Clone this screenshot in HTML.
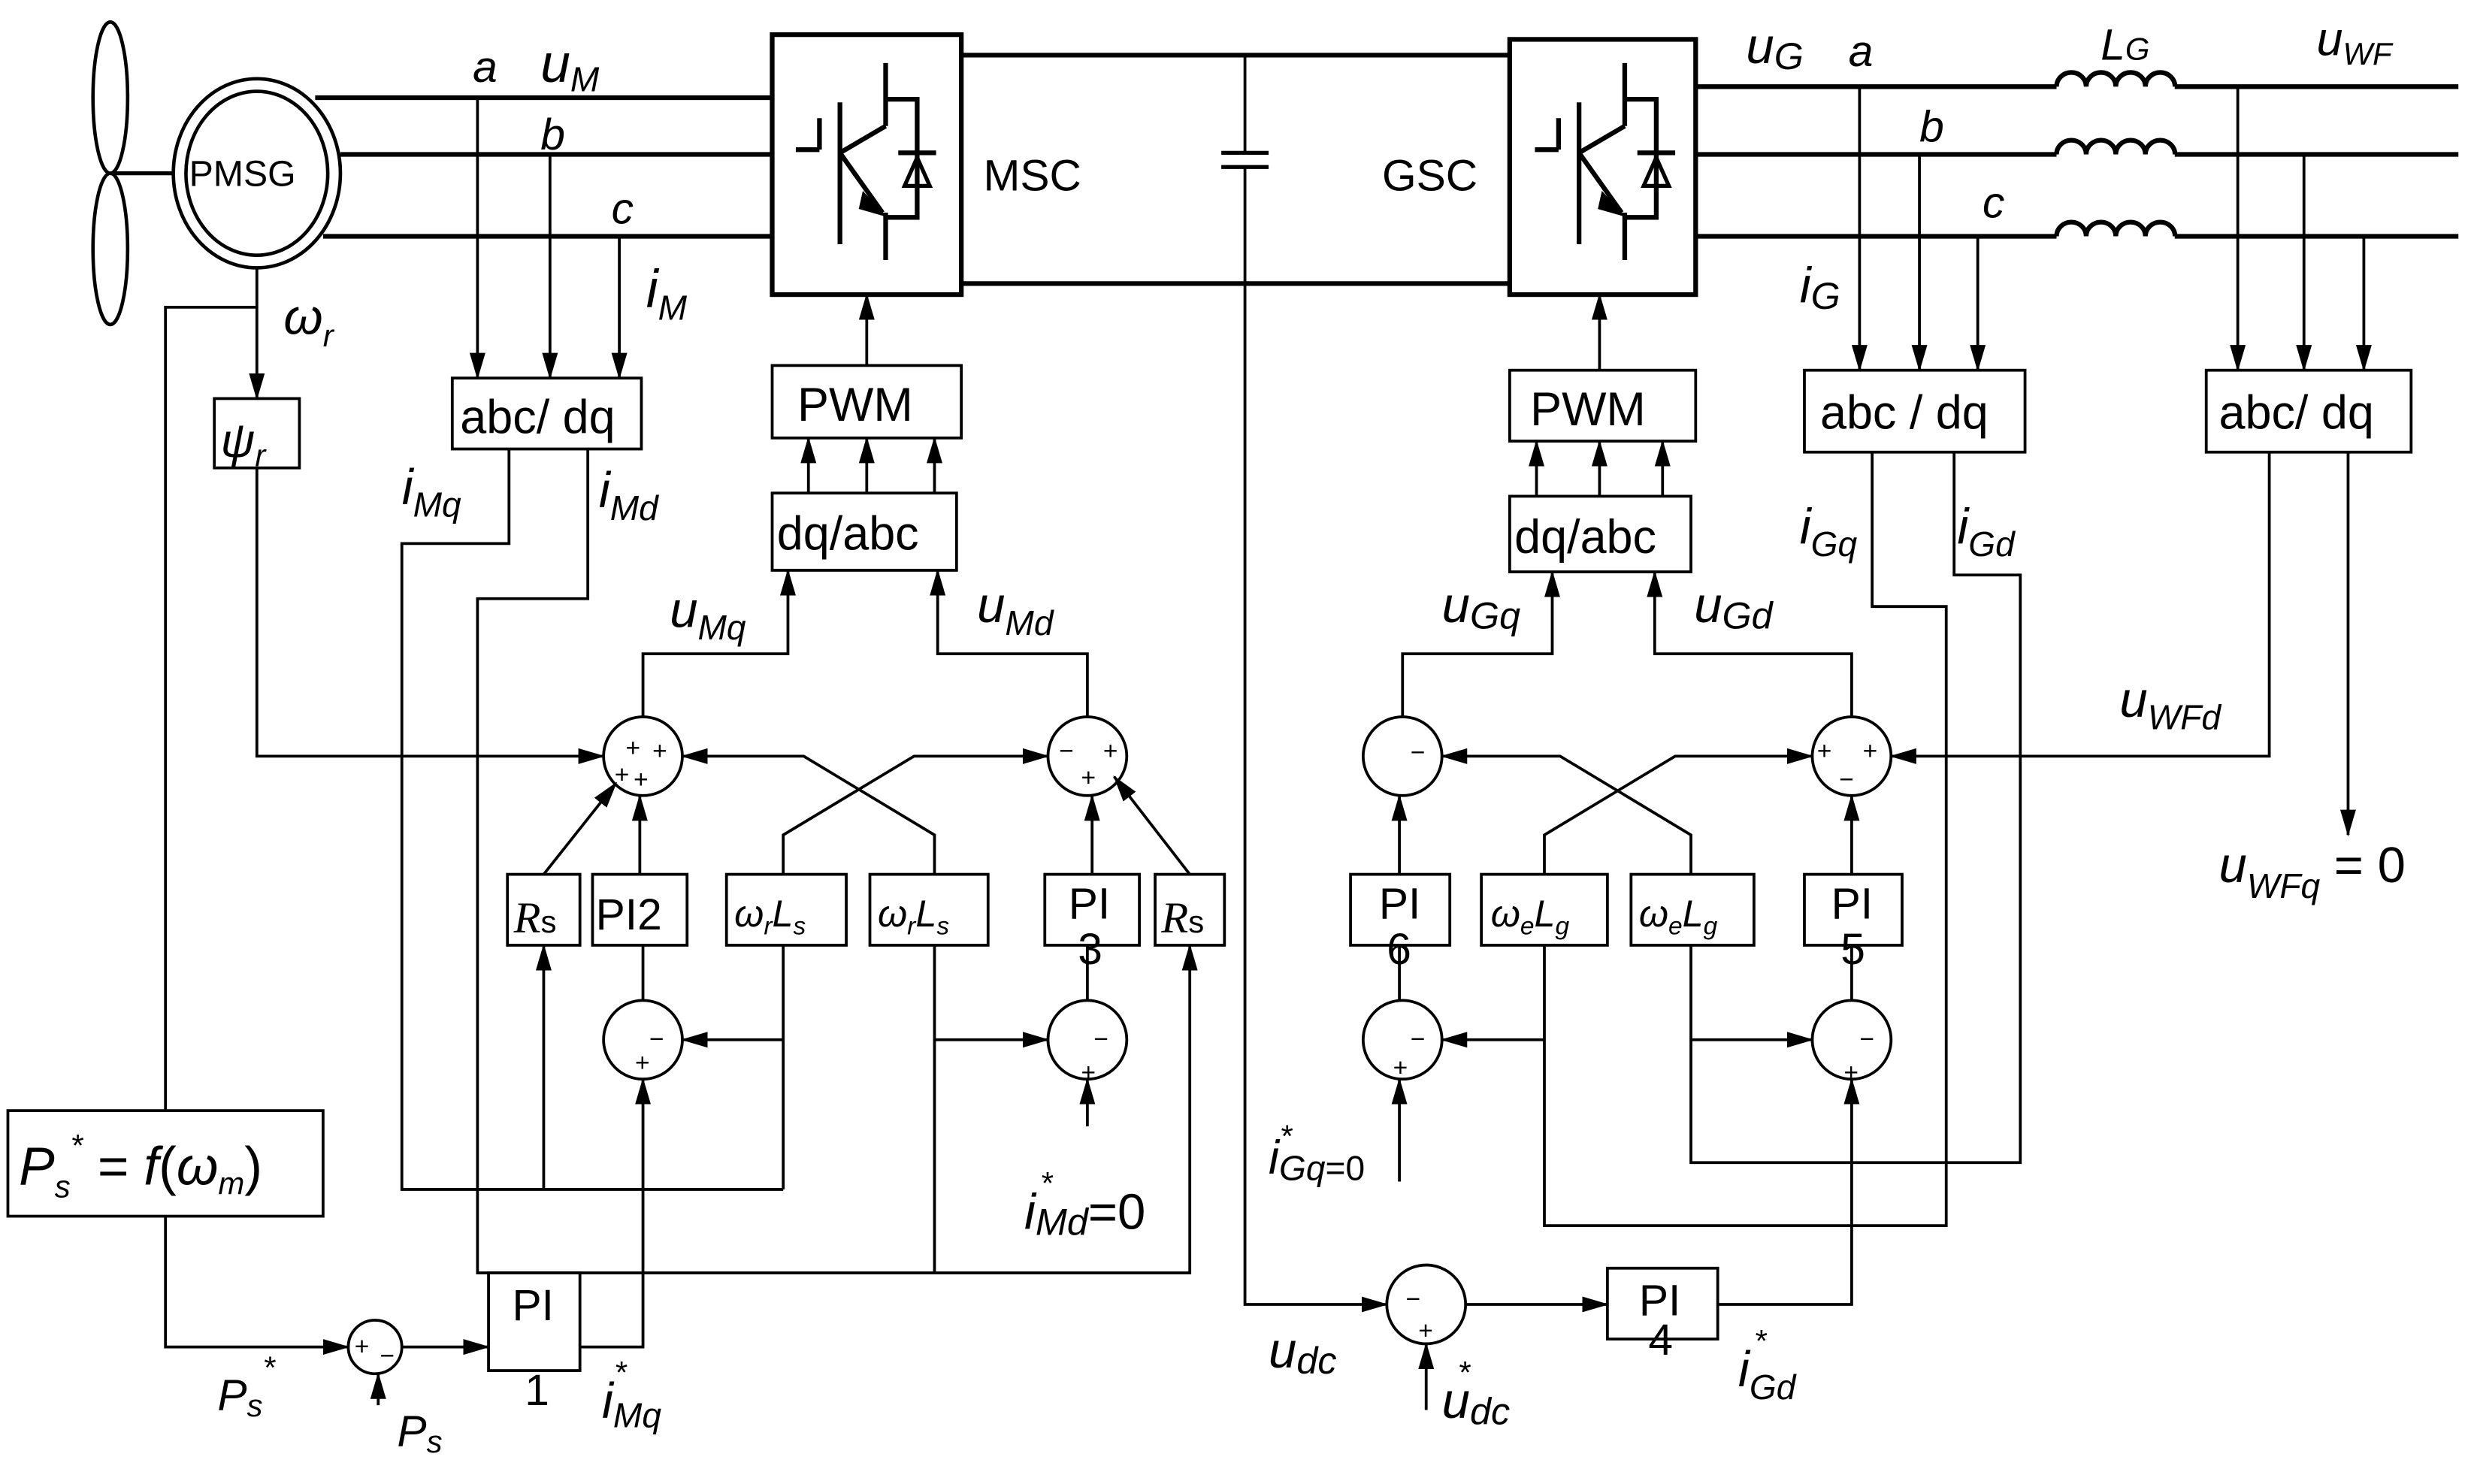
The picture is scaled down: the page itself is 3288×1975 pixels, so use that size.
<!DOCTYPE html>
<html><head><meta charset="utf-8"><style>
html,body{margin:0;padding:0;background:#fff}
svg{display:block}
text{font-family:"Liberation Sans",sans-serif;fill:#000}
.m{font-family:"Liberation Serif",serif;font-style:italic}
</style></head><body>
<svg width="3288" height="1975" viewBox="0 0 1568 942" preserveAspectRatio="none" xmlns="http://www.w3.org/2000/svg">
<defs>
<marker id="a" markerWidth="18" markerHeight="12" refX="16" refY="6" orient="auto" markerUnits="userSpaceOnUse"><path d="M0,1 L17,6 L0,11 Z" fill="#000"/></marker>
</defs>
<g fill="none" stroke="#000" stroke-width="1.8">
<!-- turbine -->
<ellipse cx="70" cy="62" rx="11" ry="48" stroke-width="2.2"/>
<ellipse cx="70" cy="158" rx="11" ry="48" stroke-width="2.2"/>
<line x1="70" y1="110" x2="110" y2="110" stroke-width="2.5"/>
<ellipse cx="163" cy="110" rx="53" ry="60" stroke-width="2.2"/>
<ellipse cx="163" cy="110" rx="45" ry="52" stroke-width="2.2"/>
<!-- 3 phase lines -->
<g stroke-width="3">
<line x1="200" y1="62" x2="490" y2="62"/><line x1="216" y1="98" x2="490" y2="98"/><line x1="205" y1="150" x2="490" y2="150"/>
<rect x="490" y="22" width="120" height="165"/>
<line x1="610" y1="35" x2="958" y2="35"/><line x1="610" y1="180" x2="958" y2="180"/>
<rect x="958" y="25" width="118" height="162"/>
<line x1="1076" y1="55" x2="1305" y2="55"/><line x1="1380" y1="55" x2="1560" y2="55"/>
<line x1="1076" y1="98" x2="1305" y2="98"/><line x1="1380" y1="98" x2="1560" y2="98"/>
<line x1="1076" y1="150" x2="1305" y2="150"/><line x1="1380" y1="150" x2="1560" y2="150"/>
<path d="M1305,55 a9.4,9 0 0 1 18.8,0 a9.4,9 0 0 1 18.8,0 a9.4,9 0 0 1 18.8,0 a9.4,9 0 0 1 18.8,0"/>
<path d="M1305,98 a9.4,9 0 0 1 18.8,0 a9.4,9 0 0 1 18.8,0 a9.4,9 0 0 1 18.8,0 a9.4,9 0 0 1 18.8,0"/>
<path d="M1305,150 a9.4,9 0 0 1 18.8,0 a9.4,9 0 0 1 18.8,0 a9.4,9 0 0 1 18.8,0 a9.4,9 0 0 1 18.8,0"/>
<!-- IGBT symbols -->
<g id="ig"><line x1="505" y1="95" x2="520" y2="95"/><line x1="520" y1="75" x2="520" y2="95"/>
<line x1="533" y1="65" x2="533" y2="155"/><line x1="533" y1="97" x2="562" y2="80"/><line x1="562" y1="40" x2="562" y2="80"/>
<line x1="533" y1="97" x2="560" y2="135"/><line x1="562" y1="135" x2="562" y2="165"/>
<polyline points="562,63 582,63 582,138 562,138"/><line x1="570" y1="97" x2="594" y2="97"/>
<polygon points="574,118 590,118 582,100" stroke-width="2.5"/></g>
<use href="#ig" x="469"/>
</g>
<polygon points="548,123 560,136 546,132" fill="#000"/><polygon points="1017,123 1029,136 1015,132" fill="#000"/>
<!-- capacitor -->
<line x1="790" y1="35" x2="790" y2="97"/><line x1="775" y1="97" x2="805" y2="97" stroke-width="2.5"/>
<line x1="775" y1="106" x2="805" y2="106" stroke-width="2.5"/><line x1="790" y1="106" x2="790" y2="180"/>
<polyline points="790,180 790,828 880,828" marker-end="url(#a)"/>
<!-- MSC measurement -->
<line x1="303" y1="62" x2="303" y2="240" marker-end="url(#a)"/>
<line x1="349" y1="98" x2="349" y2="240" marker-end="url(#a)"/>
<line x1="393" y1="150" x2="393" y2="240" marker-end="url(#a)"/>
<line x1="163" y1="170" x2="163" y2="253" marker-end="url(#a)"/>
<polyline points="163,195 105,195 105,705"/>
<polyline points="163,297 163,480 383,480" marker-end="url(#a)"/>
<polyline points="323,285 323,345 255,345 255,755 497,755"/>
<polyline points="373,285 373,380 303,380 303,808 755,808 755,600" marker-end="url(#a)"/>
<line x1="345" y1="755" x2="345" y2="600" marker-end="url(#a)"/>
<line x1="497" y1="755" x2="497" y2="600"/><polyline points="497,660 433,660" marker-end="url(#a)"/>
<line x1="593" y1="808" x2="593" y2="600"/><polyline points="593,660 665,660" marker-end="url(#a)"/>
<line x1="550" y1="232" x2="550" y2="187" marker-end="url(#a)"/>
<line x1="513" y1="313" x2="513" y2="278" marker-end="url(#a)"/>
<line x1="550" y1="313" x2="550" y2="278" marker-end="url(#a)"/>
<line x1="593" y1="313" x2="593" y2="278" marker-end="url(#a)"/>
<polyline points="408,455 408,415 500,415 500,362" marker-end="url(#a)"/>
<polyline points="690,455 690,415 595,415 595,362" marker-end="url(#a)"/>
<polyline points="497,555 497,530 580,480 665,480" marker-end="url(#a)"/>
<polyline points="593,555 593,530 510,480 433,480" marker-end="url(#a)"/>
<line x1="406" y1="555" x2="406" y2="505" marker-end="url(#a)"/>
<line x1="345" y1="555" x2="391" y2="497" marker-end="url(#a)"/>
<line x1="693" y1="555" x2="693" y2="505" marker-end="url(#a)"/>
<line x1="755" y1="555" x2="707" y2="493" marker-end="url(#a)"/>
<line x1="408" y1="635" x2="408" y2="600"/><line x1="690" y1="635" x2="690" y2="600"/>
<line x1="690" y1="715" x2="690" y2="685" marker-end="url(#a)"/>
<polyline points="105,772 105,855 221,855" marker-end="url(#a)"/>
<line x1="240" y1="892" x2="240" y2="872" marker-end="url(#a)"/>
<line x1="255" y1="855" x2="310" y2="855" marker-end="url(#a)"/>
<polyline points="368,855 408,855 408,685" marker-end="url(#a)"/>
<!-- GSC side -->
<line x1="1015" y1="235" x2="1015" y2="187" marker-end="url(#a)"/>
<line x1="975" y1="315" x2="975" y2="280" marker-end="url(#a)"/>
<line x1="1015" y1="315" x2="1015" y2="280" marker-end="url(#a)"/>
<line x1="1055" y1="315" x2="1055" y2="280" marker-end="url(#a)"/>
<line x1="1180" y1="55" x2="1180" y2="235" marker-end="url(#a)"/>
<line x1="1218" y1="98" x2="1218" y2="235" marker-end="url(#a)"/>
<line x1="1255" y1="150" x2="1255" y2="235" marker-end="url(#a)"/>
<line x1="1420" y1="55" x2="1420" y2="235" marker-end="url(#a)"/>
<line x1="1462" y1="98" x2="1462" y2="235" marker-end="url(#a)"/>
<line x1="1500" y1="150" x2="1500" y2="235" marker-end="url(#a)"/>
<polyline points="1188,287 1188,385 1235,385 1235,778 980,778 980,600"/>
<polyline points="1240,287 1240,365 1282,365 1282,738 1073,738 1073,600"/>
<polyline points="980,660 915,660" marker-end="url(#a)"/>
<polyline points="1073,660 1150,660" marker-end="url(#a)"/>
<polyline points="890,455 890,415 985,415 985,363" marker-end="url(#a)"/>
<polyline points="1175,455 1175,415 1050,415 1050,363" marker-end="url(#a)"/>
<polyline points="1440,287 1440,480 1200,480" marker-end="url(#a)"/>
<line x1="1490" y1="287" x2="1490" y2="530" marker-end="url(#a)"/>
<polyline points="980,555 980,530 1063,480 1150,480" marker-end="url(#a)"/>
<polyline points="1073,555 1073,530 990,480 915,480" marker-end="url(#a)"/>
<line x1="888" y1="555" x2="888" y2="505" marker-end="url(#a)"/>
<line x1="1175" y1="555" x2="1175" y2="505" marker-end="url(#a)"/>
<line x1="888" y1="635" x2="888" y2="600"/><line x1="1175" y1="635" x2="1175" y2="600"/>
<line x1="888" y1="750" x2="888" y2="685" marker-end="url(#a)"/>
<line x1="905" y1="895" x2="905" y2="853" marker-end="url(#a)"/>
<line x1="930" y1="828" x2="1020" y2="828" marker-end="url(#a)"/>
<polyline points="1090,828 1175,828 1175,685" marker-end="url(#a)"/>
<!-- boxes -->
<rect x="136" y="253" width="54" height="44"/>
<rect x="287" y="240" width="120" height="45"/>
<rect x="490" y="232" width="120" height="46"/>
<rect x="490" y="313" width="117" height="49"/>
<rect x="322" y="555" width="46" height="45"/><rect x="376" y="555" width="60" height="45"/>
<rect x="461" y="555" width="76" height="45"/><rect x="552" y="555" width="75" height="45"/>
<rect x="663" y="555" width="60" height="45"/><rect x="733" y="555" width="44" height="45"/>
<rect x="5" y="705" width="200" height="67"/>
<rect x="310" y="808" width="58" height="62"/>
<rect x="958" y="235" width="118" height="45"/>
<rect x="958" y="315" width="115" height="48"/>
<rect x="1145" y="235" width="140" height="52"/>
<rect x="1400" y="235" width="130" height="52"/>
<rect x="857" y="555" width="63" height="45"/><rect x="940" y="555" width="80" height="45"/>
<rect x="1035" y="555" width="78" height="45"/><rect x="1145" y="555" width="62" height="45"/>
<rect x="1020" y="805" width="70" height="45"/>
<!-- summers -->
<circle cx="408" cy="480" r="25"/><circle cx="690" cy="480" r="25"/>
<circle cx="408" cy="660" r="25"/><circle cx="690" cy="660" r="25"/>
<circle cx="238" cy="855" r="17"/>
<circle cx="890" cy="480" r="25"/><circle cx="1175" cy="480" r="25"/>
<circle cx="890" cy="660" r="25"/><circle cx="1175" cy="660" r="25"/>
<circle cx="905" cy="828" r="25"/>
</g>
<!-- text -->
<g font-size="16">
<text x="397" y="480">+</text><text x="414" y="482">+</text><text x="390" y="497">+</text><text x="402" y="500">+</text>
<text x="672" y="482">−</text><text x="700" y="482">+</text><text x="686" y="499">+</text>
<text x="412" y="665">−</text><text x="403" y="680">+</text>
<text x="694" y="665">−</text><text x="686" y="686">+</text>
<text x="225" y="860">+</text><text x="241" y="866">−</text>
<text x="895" y="483">−</text>
<text x="1153" y="482">+</text><text x="1182" y="482">+</text><text x="1167" y="500">−</text>
<text x="895" y="665">−</text><text x="884" y="683">+</text>
<text x="1180" y="665">−</text><text x="1170" y="686">+</text>
<text x="892" y="830">−</text><text x="900" y="850">+</text>
</g>
<text x="120" y="118" font-size="23">PMSG</text>
<text x="624" y="121" font-size="28">MSC</text>
<text x="877" y="121" font-size="28">GSC</text>
<g font-size="30">
<text x="292" y="275">abc/ dq</text>
<text x="506" y="267">PWM</text>
<text x="493" y="349">dq/abc</text>
<text x="971" y="270">PWM</text>
<text x="961" y="351">dq/abc</text>
<text x="1155" y="272">abc / dq</text>
<text x="1408" y="272">abc/ dq</text>
</g>
<g font-size="28">
<text x="378" y="590">PI2</text>
<text x="326" y="592" class="m" font-style="italic">R<tspan font-size="20" font-style="normal" font-family="Liberation Sans">s</tspan></text>
<text x="737" y="592" class="m">R<tspan font-size="20" font-style="normal" font-family="Liberation Sans">s</tspan></text>
<text x="678" y="583">PI</text><text x="684" y="612">3</text>
<text x="875" y="583">PI</text><text x="880" y="612">6</text>
<text x="1162" y="583">PI</text><text x="1168" y="612">5</text>
<text x="325" y="838">PI</text><text x="333" y="892">1</text>
<text x="1040" y="835">PI</text><text x="1046" y="860">4</text>
</g>
<g class="m">
<text x="300" y="52" font-size="28">a</text>
<text x="343" y="52" font-size="34">u<tspan font-size="22" dy="6">M</tspan></text>
<text x="343" y="95" font-size="28">b</text>
<text x="388" y="142" font-size="28">c</text>
<text x="410" y="195" font-size="34">i<tspan font-size="22" dy="8">M</tspan></text>
<text x="180" y="212" font-size="32">ω<tspan font-size="20" dy="8">r</tspan></text>
<text x="140" y="290" font-size="30">ψ<tspan font-size="20" dy="6">r</tspan></text>
<text x="255" y="320" font-size="32">i<tspan font-size="22" dy="8">Mq</tspan></text>
<text x="380" y="322" font-size="32">i<tspan font-size="22" dy="8">Md</tspan></text>
<text x="425" y="398" font-size="32">u<tspan font-size="22" dy="8">Mq</tspan></text>
<text x="620" y="395" font-size="32">u<tspan font-size="22" dy="8">Md</tspan></text>
<text x="466" y="588" font-size="24">ω<tspan font-size="16" dy="5">r</tspan><tspan dy="-5">L</tspan><tspan font-size="16" dy="5">s</tspan></text>
<text x="557" y="588" font-size="24">ω<tspan font-size="16" dy="5">r</tspan><tspan dy="-5">L</tspan><tspan font-size="16" dy="5">s</tspan></text>
<text x="946" y="588" font-size="24">ω<tspan font-size="16" dy="5">e</tspan><tspan dy="-5">L</tspan><tspan font-size="16" dy="5">g</tspan></text>
<text x="1040" y="588" font-size="24">ω<tspan font-size="16" dy="5">e</tspan><tspan dy="-5">L</tspan><tspan font-size="16" dy="5">g</tspan></text>
<text x="12" y="752" font-size="34">P<tspan font-size="20" dy="8">s</tspan><tspan font-size="20" dy="-26">*</tspan><tspan dy="18" font-style="normal"> = </tspan>f<tspan font-style="normal">(</tspan>ω<tspan font-size="20" dy="6">m</tspan><tspan dy="-6" font-style="normal">)</tspan></text>
<text x="138" y="895" font-size="28">P<tspan font-size="20" font-family="Liberation Sans" dy="4">s</tspan><tspan font-size="20" dy="-24">*</tspan></text>
<text x="252" y="918" font-size="28">P<tspan font-size="20" font-family="Liberation Sans" dy="4">s</tspan></text>
<text x="382" y="900" font-size="32">i<tspan font-size="22" font-family="Liberation Sans" dy="6">Mq</tspan><tspan font-size="20" dy="-28" dx="-30">*</tspan></text>
<text x="650" y="780" font-size="32">i<tspan font-size="24" font-family="Liberation Sans" dy="4">Md</tspan><tspan font-style="normal" font-family="Liberation Sans" dy="-4">=0</tspan></text>
<text x="660" y="758" font-size="20">*</text>
<text x="1108" y="40" font-size="32">u<tspan font-size="24" font-family="Liberation Sans" dy="4">G</tspan></text>
<text x="1173" y="42" font-size="28">a</text>
<text x="1218" y="90" font-size="28">b</text>
<text x="1258" y="138" font-size="28">c</text>
<text x="1333" y="38" font-size="28">L<tspan font-size="20" font-family="Liberation Sans">G</tspan></text>
<text x="1470" y="35" font-size="30">u<tspan font-size="20" dy="6">WF</tspan></text>
<text x="1142" y="192" font-size="32">i<tspan font-size="24" font-family="Liberation Sans" dy="4">G</tspan></text>
<text x="1142" y="345" font-size="32">i<tspan font-size="22" dy="8">Gq</tspan></text>
<text x="1242" y="345" font-size="32">i<tspan font-size="22" dy="8">Gd</tspan></text>
<text x="915" y="395" font-size="32">u<tspan font-size="24" font-family="Liberation Sans" dy="4">Gq</tspan></text>
<text x="1075" y="395" font-size="32">u<tspan font-size="24" font-family="Liberation Sans" dy="4">Gd</tspan></text>
<text x="1345" y="455" font-size="32">u<tspan font-size="22" dy="8">WFd</tspan></text>
<text x="1408" y="560" font-size="32">u<tspan font-size="22" dy="10">WFq</tspan><tspan font-style="normal" dy="-10"> = 0</tspan></text>
<text x="805" y="745" font-size="30">i<tspan font-size="22" font-family="Liberation Sans" dy="4">Gq</tspan><tspan font-style="normal" font-family="Liberation Sans" font-size="22">=0</tspan></text>
<text x="812" y="728" font-size="20">*</text>
<text x="805" y="868" font-size="32">u<tspan font-size="24" font-family="Liberation Sans" dy="4">dc</tspan></text>
<text x="915" y="900" font-size="32">u<tspan font-size="24" font-family="Liberation Sans" dy="4">dc</tspan></text>
<text x="925" y="878" font-size="20">*</text>
<text x="1103" y="880" font-size="32">i<tspan font-size="22" dy="8">Gd</tspan></text>
<text x="1113" y="858" font-size="20">*</text>
</g>
</svg>
</body></html>
